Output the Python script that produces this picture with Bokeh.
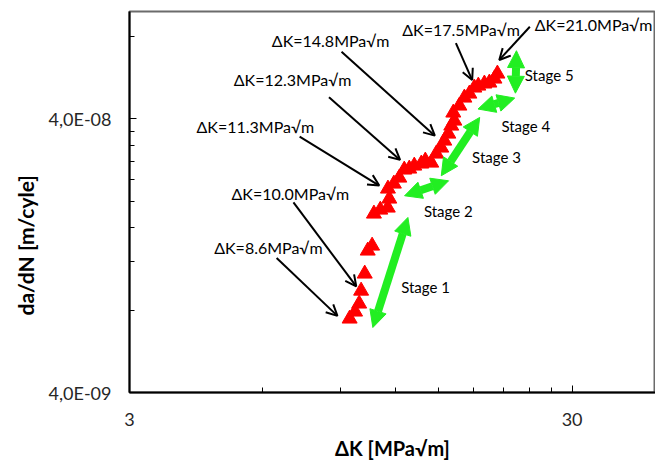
from bokeh.plotting import figure
from bokeh.models import FixedTicker, CustomJSTickFormatter, Arrow, OpenHead, NormalHead, Label, Title
from bokeh.embed import file_html
from bokeh.resources import INLINE

# ---- data: crack growth rate vs stress intensity factor range ----
dk = [9.43, 9.70, 9.91, 10.01, 10.20, 10.36, 10.60,
      10.70, 11.06, 11.50, 11.59, 11.51, 11.87, 12.21, 12.53, 12.86, 13.20,
      13.69, 13.98, 14.42, 14.80, 15.19, 15.43, 15.76, 16.00, 16.26, 16.17,
      16.69, 17.13, 17.58, 18.04, 18.42, 19.01, 19.51, 20.03, 20.34]
dadn = [7.44e-9, 7.89e-9, 8.44e-9, 9.41e-9, 1.086e-8, 1.318e-8, 1.374e-8,
        1.799e-8, 1.860e-8, 1.892e-8, 2.041e-8, 2.220e-8, 2.315e-8, 2.435e-8, 2.605e-8, 2.627e-8, 2.694e-8,
        2.740e-8, 2.810e-8, 2.762e-8, 2.980e-8, 3.134e-8, 3.324e-8, 3.525e-8, 3.771e-8, 3.933e-8, 4.208e-8,
        4.463e-8, 4.773e-8, 4.936e-8, 5.193e-8, 5.279e-8, 5.372e-8, 5.417e-8, 5.600e-8, 5.842e-8]

# ---- axes ----
x_ticks = [3, 30]
x_tick_labels = ["3", "30"]
x_minor = [6, 9, 12, 15, 18, 21, 24, 27]
y_ticks = [4e-9, 4e-8]
y_tick_labels = ["4,0E-09", "4,0E-08"]
y_minor = [8e-9, 1.2e-8, 1.6e-8, 2.0e-8, 2.4e-8, 2.8e-8, 3.2e-8, 3.6e-8, 8e-8]
x_range = (3, 46.3)
y_range = (4e-9, 9.86e-8)

# ---- annotations (text anchor and arrow start/end, data units) ----
ann_text = ["ΔK=8.6MPa√m", "ΔK=10.0MPa√m", "ΔK=11.3MPa√m", "ΔK=12.3MPa√m",
            "ΔK=14.8MPa√m", "ΔK=17.5MPa√m", "ΔK=21.0MPa√m"]
ann_x = [4.66, 5.10, 4.25, 5.16, 6.29, 12.40, 24.7]
ann_y = [1.355e-8, 2.134e-8, 3.74e-8, 5.55e-8, 7.71e-8, 8.44e-8, 8.87e-8]
arr_x0 = [6.45, 7.04, 7.27, 8.47, 9.04, 16.39, 24.08]
arr_y0 = [1.239e-8, 1.98e-8, 3.44e-8, 4.79e-8, 7.03e-8, 7.56e-8, 8.67e-8]
arr_x1 = [8.85, 9.76, 11.00, 12.26, 14.69, 17.84, 20.54]
arr_y1 = [7.62e-9, 9.76e-9, 2.28e-8, 2.83e-8, 3.47e-8, 5.54e-8, 6.56e-8]

stage_text = ["Stage 1", "Stage 2", "Stage 3", "Stage 4", "Stage 5"]
stage_x = [12.33, 13.88, 17.83, 20.77, 23.46]
stage_y = [9.73e-9, 1.845e-8, 2.889e-8, 3.771e-8, 5.79e-8]
st_x0 = [12.77, 12.55, 15.19, 18.39, 22.46]
st_y0 = [1.744e-8, 2.093e-8, 2.477e-8, 4.341e-8, 7.09e-8]
st_x1 = [10.64, 15.78, 18.55, 22.26, 22.34]
st_y1 = [6.91e-9, 2.374e-8, 4.045e-8, 4.76e-8, 4.96e-8]

FONT = "Lato"
GREEN = "#22EE22"

p = figure(width=655, height=463, x_axis_type="log", y_axis_type="log",
           x_range=x_range, y_range=y_range,
           output_backend="svg", toolbar_location=None,
           min_border_left=129, min_border_right=0, min_border_top=11, min_border_bottom=71)
p.xgrid.visible = False
p.ygrid.visible = False
p.outline_line_color = "#6b6b6b"
p.outline_line_width = 2
p.background_fill_color = "white"
p.border_fill_color = "white"

fmt_code = """
for (let i = 0; i < vals.length; i++) {
  if (Math.abs(Math.log10(tick / vals[i])) < 1e-6) return labs[i];
}
return '';
"""
p.xaxis.ticker = FixedTicker(ticks=x_ticks, minor_ticks=x_minor)
p.xaxis.formatter = CustomJSTickFormatter(args=dict(vals=x_ticks, labs=x_tick_labels), code=fmt_code)
p.yaxis.ticker = FixedTicker(ticks=y_ticks, minor_ticks=y_minor)
p.yaxis.formatter = CustomJSTickFormatter(args=dict(vals=y_ticks, labs=y_tick_labels), code=fmt_code)

for ax in (p.xaxis, p.yaxis):
    ax.axis_line_color = "black"
    ax.axis_line_width = 2
    ax.major_tick_line_color = "black"
    ax.minor_tick_line_color = "black"
    ax.major_tick_in = 7
    ax.major_tick_out = 0
    ax.minor_tick_in = 5
    ax.minor_tick_out = 0
    ax.major_label_text_font = FONT
    ax.major_label_text_font_size = "18px"
    ax.major_label_text_color = "#262626"
p.xaxis.major_label_standoff = 20
p.yaxis.major_label_standoff = 18

p.xaxis.axis_label = "ΔK [MPa√m]"
p.xaxis.axis_label_text_font = FONT
p.xaxis.axis_label_text_font_style = "bold"
p.xaxis.axis_label_text_font_size = "20px"
p.xaxis.axis_label_text_color = "black"
p.xaxis.axis_label_standoff = 7

ytitle = Title(text="da/dN [m/cyle]", align="left", offset=77, standoff=12,
               vertical_align="top",
               text_font=FONT, text_font_style="bold", text_font_size="21px",
               text_color="black")
p.add_layout(ytitle, "left")

# data points
p.scatter(dk, dadn, marker="triangle", size=15, fill_color="#FF0000", line_color="#FF0000")

# stage arrows (green, double-headed)
for i in range(len(stage_text)):
    p.add_layout(Arrow(x_start=st_x0[i], y_start=st_y0[i], x_end=st_x1[i], y_end=st_y1[i],
                       line_color=GREEN, line_width=8,
                       start=NormalHead(size=17, fill_color=GREEN, line_color=GREEN, line_width=1),
                       end=NormalHead(size=17, fill_color=GREEN, line_color=GREEN, line_width=1)))
    p.add_layout(Label(x=stage_x[i], y=stage_y[i], text=stage_text[i],
                       text_align="left", text_baseline="middle",
                       text_font=FONT, text_font_size="15px", text_color="black"))

# annotation arrows (black)
for i in range(len(ann_text)):
    p.add_layout(Arrow(x_start=arr_x0[i], y_start=arr_y0[i], x_end=arr_x1[i], y_end=arr_y1[i],
                       line_color="black", line_width=2,
                       end=OpenHead(size=11, line_color="black", line_width=2)))
    p.add_layout(Label(x=ann_x[i], y=ann_y[i], text=ann_text[i],
                       text_align="left", text_baseline="middle",
                       text_font=FONT, text_font_size="16px", text_color="black"))

open("out.html", "w").write(file_html(p, INLINE))
